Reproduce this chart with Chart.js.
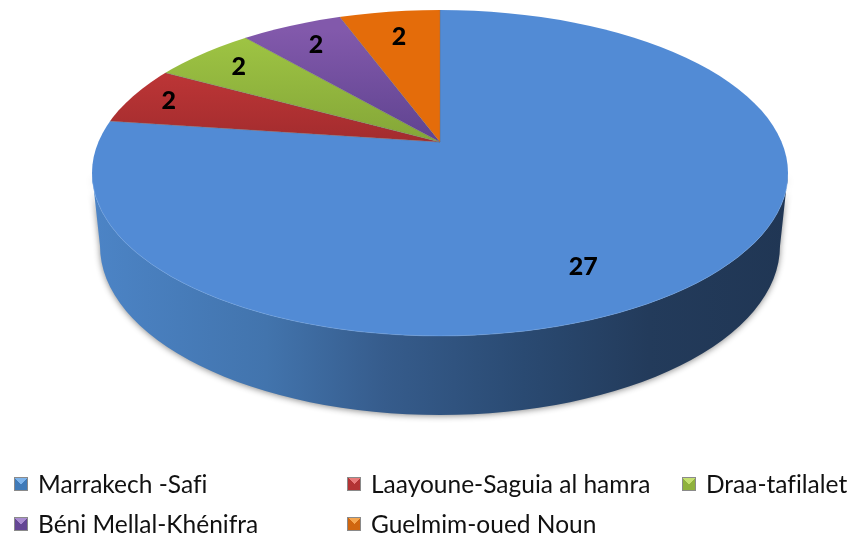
<!doctype html>
<html>
<head>
<meta charset="utf-8">
<script src="https://cdn.jsdelivr.net/npm/chart.js@4"></script>
<style>
  body{margin:0;background:#fff;width:852px;height:538px;overflow:hidden;position:relative}
  #legend{position:absolute;left:0;top:0;font:24.5px Lato,sans-serif;font-variant-ligatures:none;color:#111}
  .item{position:absolute;white-space:nowrap;line-height:28px}
  .item i{position:absolute;left:-24px;top:7px;width:14px;height:14px;box-sizing:border-box;border:1px solid #8a8a8a}
</style>
</head>
<body>
<canvas id="pie" width="852" height="538" style="display:block"></canvas>
<div id="legend"></div>
<script>
const categories = ['Marrakech -Safi','Laayoune-Saguia al hamra','Draa-tafilalet','Béni Mellal-Khénifra','Guelmim-oued Noun']
const values = [27,2,2,2,2]
const sliceTop = ['#528bd5','#cc3b3b','#a0c644','#8259ab','#e46c0a']
const sliceLow = ['#528bd5','#a32c2e','#84a638','#5f4390','#e46c0a']
const markLight = ['#7db4ec','#e87a7a','#c4e070','#a98bd0','#f5a64f']
const markDark = ['#3f7ab8','#b33334','#8fb13c','#644694','#d0660f']

// top face and wall geometry, apex sits above the ellipse centre
const top3d = {cx:440, cy:173, rx:348, ry:163, apexX:440, apexY:142}
const low3d = {cx:440, cy:246, rx:340, ry:169}
const K = 1.25
// how far along the ray each value label sits
const labelReach = [0.749,0.886,0.85,0.835,0.81]

function mapping(chart){
  const a = chart.chartArea
  const R = Math.min(a.right-a.left, a.bottom-a.top)/2
  return {x:(a.left+a.right)/2, y:(a.top+a.bottom)/2, sx:K*top3d.rx/R, sy:K*top3d.ry/R}
}

function sliceFill(ctx){
  const chart = ctx.chart, i = ctx.dataIndex
  if(!chart.chartArea) return sliceTop[i]
  const m = mapping(chart)
  const toLocal = y => m.y + (y-top3d.apexY)/m.sy
  const g = chart.ctx.createLinearGradient(0,toLocal(30),0,toLocal(142))
  g.addColorStop(0,sliceTop[i])
  g.addColorStop(1,sliceLow[i])
  return g
}

const pie3d = {
  id:'pie3d',
  beforeDatasetsDraw(chart){
    const c = chart.ctx, t = top3d, l = low3d
    // wall
    c.save()
    const g = c.createLinearGradient(t.cx-t.rx,0,t.cx+t.rx,0)
    g.addColorStop(0,'#4c84c6')
    g.addColorStop(0.25,'#4274ad')
    g.addColorStop(0.42,'#365c8c')
    g.addColorStop(0.62,'#2a4a72')
    g.addColorStop(0.8,'#233b5b')
    g.addColorStop(1,'#203654')
    c.fillStyle = g
    c.shadowColor = 'rgba(0,0,0,.45)'
    c.shadowBlur = 6
    c.shadowOffsetY = 1
    c.beginPath()
    c.ellipse(l.cx,l.cy,l.rx,l.ry,0,0,Math.PI)
    c.ellipse(t.cx,t.cy,t.rx,t.ry,0,Math.PI,0,true)
    c.closePath()
    c.fill()
    c.restore()
    // top face: big pie clipped to the ellipse, centred on the apex
    const m = mapping(chart)
    c.save()
    c.beginPath()
    c.ellipse(t.cx,t.cy,t.rx,t.ry,0,0,Math.PI*2)
    c.clip()
    c.translate(t.apexX,t.apexY)
    c.scale(m.sx,m.sy)
    c.translate(-m.x,-m.y)
  },
  afterDatasetsDraw(chart){
    const c = chart.ctx, t = top3d
    c.restore()
    // rim highlight
    c.save()
    c.strokeStyle = 'rgba(120,170,235,.45)'
    c.lineWidth = 1
    c.beginPath()
    c.ellipse(t.cx,t.cy,t.rx,t.ry,0,0.05,Math.PI-0.05)
    c.stroke()
    c.restore()
    // value labels
    const off = (t.apexY-t.cy)/t.ry
    c.save()
    c.font = '900 25px Lato,sans-serif'
    c.fillStyle = '#000'
    c.textAlign = 'center'
    c.textBaseline = 'middle'
    chart.getDatasetMeta(0).data.forEach((arc,i)=>{
      const wide = arc.endAngle-arc.startAngle > Math.PI
      const ang = (arc.startAngle+arc.endAngle)/2 + (wide ? 0.226 : 0)
      const dx = Math.cos(ang), dy = Math.sin(ang)
      const b = off*dy
      const ray = -b + Math.sqrt(b*b+1-off*off)
      const f = labelReach[i]*ray
      c.fillText(values[i], t.apexX+dx*f*t.rx, t.apexY+dy*f*t.ry)
    })
    c.restore()
  }
}

new Chart(document.getElementById('pie'),{
  type:'pie',
  data:{labels:categories,datasets:[{data:values,backgroundColor:sliceFill,borderColor:'rgba(110,110,120,.45)',borderWidth:0.6,clip:false}]},
  options:{
    responsive:false,
    animation:false,
    plugins:{legend:{display:false},tooltip:{enabled:false}}
  },
  plugins:[pie3d]
})

// legend laid out like the original, three columns over two rows
const legendCols = [38,371,706]
const legendRows = [470,510]
const legend = document.getElementById('legend')
categories.forEach((name,i)=>{
  const d = document.createElement('div')
  d.className = 'item'
  d.style.left = legendCols[i%3]+'px'
  d.style.top = legendRows[Math.floor(i/3)]+'px'
  d.textContent = name
  const mark = document.createElement('i')
  mark.style.background = `conic-gradient(from -45deg, ${markLight[i]} 0 90deg, ${markDark[i]} 90deg 360deg)`
  d.appendChild(mark)
  legend.appendChild(d)
})
</script>
</body>
</html>
